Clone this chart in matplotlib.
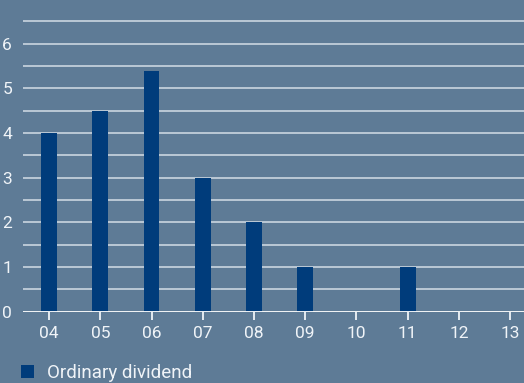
import matplotlib.pyplot as plt
import numpy as np

years = ['04', '05', '06', '07', '08', '09', '10', '11', '12', '13']
dividend = [4.0, 4.5, 5.4, 3.0, 2.0, 1.0, 0, 1.0, 0, 0]

bg = '#5e7b96'
bar_col = '#003c7b'
txt = '#f0f4f8'

plt.rcParams['font.family'] = ['Roboto', 'DejaVu Sans']

fig = plt.figure(figsize=(5.24, 3.83), dpi=100, facecolor=bg)
ax = fig.add_axes([0.044, 0.186, 0.956, 0.8164])
ax.set_facecolor(bg)

x = np.arange(len(years))
ax.set_axisbelow(True)
for yv in np.arange(0.5, 7.0, 0.5):
    ax.axhline(yv, color='#d4dde6', lw=1.1, zorder=0)
ax.bar(x, dividend, width=0.31, color=bar_col, zorder=2, label='Ordinary dividend')
ax.axhline(0, color='white', lw=1.3, zorder=3)

ax.set_xlim(-0.508, 9.27)
ax.set_ylim(0, 7)
ax.set_xticks(x)
ax.set_xticklabels(years)
ax.set_yticks(range(7))
for s in ax.spines.values():
    s.set_visible(False)
ax.tick_params(axis='x', colors=txt, length=6, width=1.3, pad=4, labelsize=12.5)
ax.tick_params(axis='y', colors=txt, length=0, pad=8, labelsize=12.5)
for lab in ax.get_xticklabels() + ax.get_yticklabels():
    lab.set_color(txt)

leg = fig.legend(loc='center left', bbox_to_anchor=(0.040, 0.026), frameon=False,
                 borderpad=0, borderaxespad=0,
                 handlelength=0.68, handleheight=0.68, handletextpad=0.7,
                 fontsize=13.5)
for t in leg.get_texts():
    t.set_color(txt)

fig.savefig('out.png', dpi=100, facecolor=bg)
